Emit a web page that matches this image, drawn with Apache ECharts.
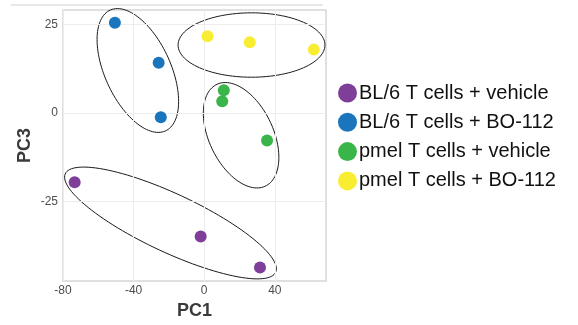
<!DOCTYPE html>
<html>
<head>
<meta charset="utf-8">
<script src="https://cdn.jsdelivr.net/npm/echarts@6/dist/echarts.min.js"></script>
<style>
  html, body { margin: 0; padding: 0; background: #fff; }
  #chart { width: 578px; height: 325px; }
</style>
</head>
<body>
<div id="chart"></div>
<script>
// PCA scores (PC1 vs PC3) per sample group
const groupNames = [
  'BL/6 T cells + vehicle',
  'BL/6 T cells + BO-112',
  'pmel T cells + vehicle',
  'pmel T cells + BO-112'
];
const groupColors = ['#7f3f98', '#1b75bc', '#39b54a', '#f9ed32'];

const bl6VehiclePC1 = [-73.4, -2.0, 31.6];
const bl6VehiclePC3 = [-19.6, -34.9, -43.7];
const bl6Bo112PC1 = [-50.6, -25.8, -24.6];
const bl6Bo112PC3 = [25.5, 14.2, -1.2];
const pmelVehiclePC1 = [11.1, 10.2, 35.6];
const pmelVehiclePC3 = [6.4, 3.3, -7.8];
const pmelBo112PC1 = [1.9, 25.8, 62.1];
const pmelBo112PC3 = [21.7, 20.0, 17.9];

// Group outlines: centre, half extent along PC1 / PC3, and PC1–PC3 correlation
const ellipseCenterPC1 = [-19.1, -37.6, 20.9, 26.8];
const ellipseCenterPC3 = [-31.1, 12.0, -6.3, 19.2];
const ellipseHalfPC1 = [60.0, 23.1, 21.4, 41.6];
const ellipseHalfPC3 = [15.8, 17.5, 14.9, 9.1];
const ellipseCorr = [-0.82, -0.5, -0.42, 0.0];

// Axis breaks
const pc1Ticks = [-80, -40, 0, 40];
const pc3Ticks = [-25, 0, 25];

const pc1List = [bl6VehiclePC1, bl6Bo112PC1, pmelVehiclePC1, pmelBo112PC1];
const pc3List = [bl6VehiclePC3, bl6Bo112PC3, pmelVehiclePC3, pmelBo112PC3];

const scatterSeries = groupNames.map((name, g) => ({
  name: name,
  type: 'scatter',
  symbol: 'circle',
  symbolSize: 12,
  z: 5,
  itemStyle: { color: groupColors[g], opacity: 1 },
  data: pc1List[g].map((x, i) => [x, pc3List[g][i]]),
  silent: true
}));

const ellipseData = ellipseCenterPC1.map((cx, i) => [
  cx, ellipseCenterPC3[i], ellipseHalfPC1[i], ellipseHalfPC3[i], ellipseCorr[i]
]);

const ellipseSeries = {
  type: 'custom',
  z: 3,
  silent: true,
  data: ellipseData,
  renderItem: function (params, api) {
    const cx = api.value(0), cy = api.value(1);
    const w = api.value(2), h = api.value(3), r = api.value(4);
    const s = Math.sqrt(1 - r * r);
    const pts = [];
    const n = 120;
    for (let k = 0; k < n; k++) {
      const t = (k / n) * Math.PI * 2;
      const x = cx + w * Math.cos(t);
      const y = cy + h * (r * Math.cos(t) + s * Math.sin(t));
      pts.push(api.coord([x, y]));
    }
    return {
      type: 'polygon',
      shape: { points: pts },
      style: { fill: 'none', stroke: '#1a1a1a', lineWidth: 1 }
    };
  }
};

const gridSeries = {
  type: 'scatter',
  data: [],
  z: 1,
  silent: true,
  markLine: {
    silent: true,
    symbol: ['none', 'none'],
    label: { show: false },
    animation: false,
    lineStyle: { color: '#ececec', width: 1, type: 'solid' },
    emphasis: { disabled: true },
    data: pc1Ticks.map(v => ({ xAxis: v })).concat(pc3Ticks.map(v => ({ yAxis: v })))
  }
};

const chart = echarts.init(document.getElementById('chart'), null, { renderer: 'canvas' });
chart.setOption({
  animation: false,
  backgroundColor: '#ffffff',
  textStyle: { fontFamily: 'Liberation Sans, Arial, sans-serif' },
  graphic: [{
    type: 'line',
    shape: { x1: 11, y1: 5, x2: 323, y2: 5 },
    style: { stroke: '#e0e0e0', lineWidth: 1.5 },
    silent: true
  }],
  grid: {
    left: 63, top: 10, right: 252, bottom: 44,
    show: true,
    backgroundColor: '#ffffff',
    borderColor: '#d6d6d6',
    borderWidth: 1.5
  },
  legend: {
    data: groupNames,
    orient: 'vertical',
    left: 333,
    top: 78,
    icon: 'circle',
    itemWidth: 19,
    itemHeight: 19,
    itemGap: 9.3,
    selectedMode: false,
    textStyle: {
      fontSize: 20, color: '#111111', fontFamily: 'Liberation Sans, Arial, sans-serif',
      lineHeight: 19, padding: [0, 0, 0, -3]
    }
  },
  xAxis: {
    type: 'value',
    min: -80,
    max: 69,
    interval: 40,
    name: 'PC1',
    nameLocation: 'middle',
    nameGap: 19,
    nameTextStyle: { fontSize: 18, fontWeight: 'bold', color: '#3a3a3a' },
    axisLine: { show: false },
    axisTick: { show: true, customValues: pc1Ticks, length: 3, lineStyle: { color: '#aaaaaa' } },
    axisLabel: { customValues: pc1Ticks, fontSize: 12, color: '#4d4d4d', margin: 4 },
    splitLine: { show: false }
  },
  yAxis: {
    type: 'value',
    min: -47.5,
    max: 29.1,
    name: 'PC3',
    nameLocation: 'middle',
    nameGap: 28.5,
    nameRotate: 90,
    nameTextStyle: { fontSize: 18, fontWeight: 'bold', color: '#3a3a3a' },
    axisLine: { show: false },
    axisTick: { show: true, customValues: pc3Ticks, length: 3, lineStyle: { color: '#aaaaaa' } },
    axisLabel: { customValues: pc3Ticks, fontSize: 12, color: '#4d4d4d', margin: 5 },
    splitLine: { show: false }
  },
  series: [gridSeries, ellipseSeries].concat(scatterSeries)
});
</script>
</body>
</html>
